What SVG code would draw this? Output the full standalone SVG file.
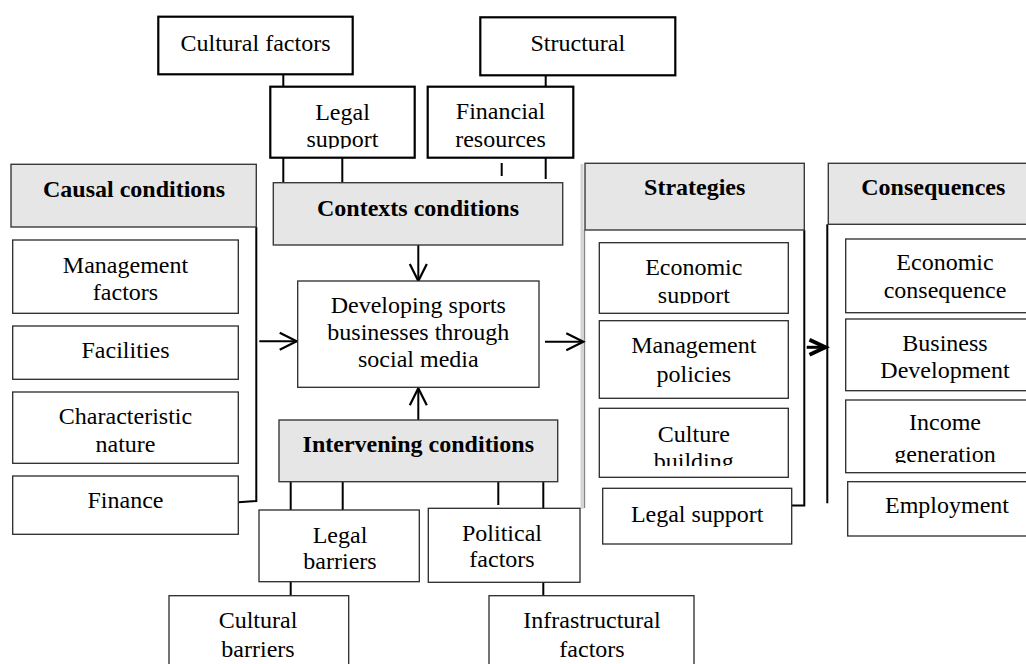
<svg xmlns="http://www.w3.org/2000/svg" width="1026" height="664" viewBox="0 0 1026 664">
<style>
text{font-family:"Liberation Serif","Times New Roman",serif;font-size:24px;text-anchor:middle;fill:#000}
.b{font-weight:bold}
.hdr{fill:#e6e6e6;stroke:#3a3a3a;stroke-width:1.4}
.box{fill:#fff;stroke:#2a2a2a;stroke-width:1.3}
.boxb{fill:#fff;stroke:#000;stroke-width:2.2}
.ln{stroke:#000;stroke-width:2;fill:none}
.shade{stroke:#d4d4d4;stroke-width:3;fill:none}
</style>
<defs>
<marker id="chev" markerUnits="userSpaceOnUse" markerWidth="24" markerHeight="24" viewBox="-20 -12 24 24" refX="0" refY="0" orient="auto">
<path d="M-17,-8.5 L0,0 L-17,8.5" fill="none" stroke="#000" stroke-width="2.2"/>
</marker>
<marker id="chevb" markerUnits="userSpaceOnUse" markerWidth="26" markerHeight="26" viewBox="-21 -13 26 26" refX="0" refY="0" orient="auto">
<path d="M-17,-7.5 L-1,0 L-17,7.5" fill="none" stroke="#000" stroke-width="3.8"/>
</marker>
<clipPath id="c1"><rect x="270" y="86" width="145" height="62.5"/></clipPath>
<clipPath id="c2"><rect x="599" y="242" width="190" height="61.5"/></clipPath>
<clipPath id="c3"><rect x="599" y="408" width="190" height="58"/></clipPath>
<clipPath id="c4"><rect x="845" y="400" width="190" height="63"/></clipPath>
</defs>
<rect width="1026" height="664" fill="#fff"/>

<g id="connectors">
<line class="ln" x1="283.3" y1="74" x2="283.3" y2="87"/>
<line class="ln" x1="545.7" y1="75" x2="545.7" y2="87"/>
<line class="ln" x1="283.3" y1="157.7" x2="283.3" y2="182"/>
<line class="ln" x1="342.3" y1="157.7" x2="342.3" y2="182"/>
<line class="ln" x1="501.7" y1="163" x2="501.7" y2="176"/>
<line class="ln" x1="545.7" y1="157.7" x2="545.7" y2="179"/>
<polyline class="ln" points="256.3,227 256.3,501 238.3,502.3"/>
<line class="shade" x1="582" y1="164" x2="582" y2="509"/>
<line x1="584.5" y1="230" x2="584.5" y2="508" stroke="#888" stroke-width="1.4"/>
<polyline class="ln" points="804.3,230 804.3,505.5 791.7,505.5"/>
<line class="ln" x1="827.3" y1="224.3" x2="827.3" y2="503.3"/>
<line class="ln" x1="418.3" y1="245" x2="418.3" y2="281" marker-end="url(#chev)"/>
<line class="ln" x1="418.3" y1="420" x2="418.3" y2="388.3" marker-end="url(#chev)"/>
<line class="ln" x1="259.3" y1="341.2" x2="296.7" y2="341.2" marker-end="url(#chev)"/>
<line class="ln" x1="545" y1="341.7" x2="583.3" y2="341.7" marker-end="url(#chev)"/>
<line x1="806.7" y1="347.3" x2="826.5" y2="347.3" stroke="#000" stroke-width="3" marker-end="url(#chevb)"/>
<line class="ln" x1="290.7" y1="481.7" x2="290.7" y2="510"/>
<line class="ln" x1="342.7" y1="481.7" x2="342.7" y2="510"/>
<line class="ln" x1="498.3" y1="481.7" x2="498.3" y2="505"/>
<line class="ln" x1="543.3" y1="481.7" x2="543.3" y2="508.3"/>
<line class="ln" x1="290.7" y1="581.7" x2="290.7" y2="595.7"/>
<line class="ln" x1="543.3" y1="582.3" x2="543.3" y2="595.7"/>
</g>

<g id="cultural-factors">
<rect class="boxb" x="158.3" y="16.7" width="194.4" height="57.6"/>
<text x="255.5" y="51">Cultural factors</text>
</g>
<g id="structural">
<rect class="boxb" x="480.3" y="17.3" width="195" height="58"/>
<text x="577.8" y="51">Structural</text>
</g>
<g id="legal-support-top">
<rect class="boxb" x="270.3" y="86.7" width="144.4" height="71"/>
<g clip-path="url(#c1)">
<text x="342.5" y="120">Legal</text>
<text x="342.5" y="147">support</text>
</g>
</g>
<g id="financial-resources">
<rect class="boxb" x="427.7" y="86.7" width="145.6" height="71"/>
<text x="500.5" y="119">Financial</text>
<text x="500.5" y="146.7">resources</text>
</g>

<g id="causal-conditions">
<rect class="hdr" x="11" y="164.3" width="245.3" height="62.7"/>
<text class="b" x="134" y="197">Causal conditions</text>
</g>
<g id="management-factors">
<rect class="box" x="12.7" y="240" width="225.6" height="73.3"/>
<text x="125.5" y="273.3">Management</text>
<text x="125.5" y="300">factors</text>
</g>
<g id="facilities">
<rect class="box" x="12.7" y="326" width="225.6" height="53.3"/>
<text x="125.5" y="358.3">Facilities</text>
</g>
<g id="characteristic-nature">
<rect class="box" x="12.7" y="392" width="225.6" height="71.3"/>
<text x="125.5" y="424">Characteristic</text>
<text x="125.5" y="451.7">nature</text>
</g>
<g id="finance">
<rect class="box" x="12.7" y="476" width="225.6" height="58.3"/>
<text x="125.5" y="508.3">Finance</text>
</g>

<g id="contexts-conditions">
<rect class="hdr" x="273.3" y="182.7" width="289.4" height="62.3"/>
<text class="b" x="418" y="216">Contexts conditions</text>
</g>
<g id="core">
<rect class="box" x="297.7" y="281" width="241.3" height="106.3"/>
<text x="418.3" y="313.3">Developing sports</text>
<text x="418.3" y="340">businesses through</text>
<text x="418.3" y="366.7">social media</text>
</g>
<g id="intervening-conditions">
<rect class="hdr" x="279" y="420" width="278.7" height="61.7"/>
<text class="b" x="418.3" y="451.7">Intervening conditions</text>
</g>
<g id="legal-barriers">
<rect class="box" x="259" y="510" width="160.3" height="71.7"/>
<text x="340" y="543.3">Legal</text>
<text x="340" y="569.3">barriers</text>
</g>
<g id="political-factors">
<rect class="box" x="428.3" y="508.3" width="151.7" height="74"/>
<text x="502" y="541">Political</text>
<text x="502" y="567.3">factors</text>
</g>
<g id="cultural-barriers">
<rect class="box" x="169" y="595.7" width="179.7" height="80"/>
<text x="258" y="628.3">Cultural</text>
<text x="258" y="656.7">barriers</text>
</g>
<g id="infrastructural-factors">
<rect class="box" x="489" y="595.7" width="205" height="80"/>
<text x="592" y="628.3">Infrastructural</text>
<text x="592" y="656.7">factors</text>
</g>

<g id="strategies">
<rect class="hdr" x="585" y="163.3" width="219.3" height="66.7"/>
<text class="b" x="694.7" y="195">Strategies</text>
</g>
<g id="economic-support">
<rect class="box" x="599.3" y="242.7" width="189" height="70.6"/>
<g clip-path="url(#c2)">
<text x="693.8" y="275">Economic</text>
<text x="693.8" y="302.7">support</text>
</g>
</g>
<g id="management-policies">
<rect class="box" x="599.3" y="320.7" width="189" height="77.6"/>
<text x="693.8" y="353.3">Management</text>
<text x="693.8" y="381.7">policies</text>
</g>
<g id="culture-building">
<rect class="box" x="599.3" y="408.3" width="189" height="69"/>
<g clip-path="url(#c3)">
<text x="693.8" y="441.7">Culture</text>
<text x="693.8" y="469">building</text>
</g>
</g>
<g id="legal-support-strategy">
<rect class="box" x="602.7" y="488.3" width="189" height="55.7"/>
<text x="697.2" y="521.7">Legal support</text>
</g>

<g id="consequences">
<rect class="hdr" x="828.3" y="163.3" width="210" height="61"/>
<text class="b" x="933.3" y="195">Consequences</text>
</g>
<g id="economic-consequence">
<rect class="box" x="845.7" y="239" width="200" height="73.7"/>
<text x="945" y="270">Economic</text>
<text x="945" y="298.3">consequence</text>
</g>
<g id="business-development">
<rect class="box" x="845.7" y="319" width="200" height="71.7"/>
<text x="945" y="350.7">Business</text>
<text x="945" y="378.3">Development</text>
</g>
<g id="income-generation">
<rect class="box" x="845.7" y="400" width="200" height="72.7"/>
<g clip-path="url(#c4)">
<text x="945" y="430">Income</text>
<text x="945" y="461.7">generation</text>
</g>
</g>
<g id="employment">
<rect class="box" x="847.7" y="481.7" width="200" height="54.3"/>
<text x="947" y="513.3">Employment</text>
</g>
</svg>
